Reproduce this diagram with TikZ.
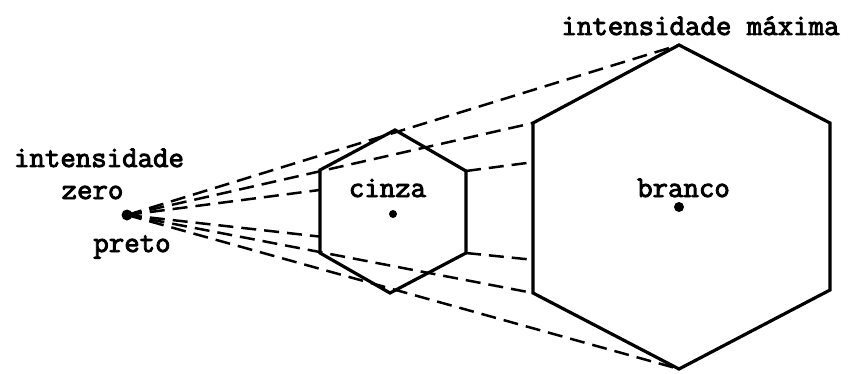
\documentclass[tikz,border=0pt]{standalone}
\usepackage{fontspec}
\newfontfamily\tw{Latin Modern Mono}[FakeBold=3]
\tikzset{
  ray/.style={line width=2.5pt, dash pattern=on 15pt off 8pt},
  hexline/.style={line width=3.2pt, line join=miter},
  lbl/.style={inner sep=0pt, anchor=base, font=\tw\fontsize{30}{30}\selectfont},
  spot/.style={circle, fill=black, inner sep=0pt}
}
\begin{document}
\begin{tikzpicture}[x=1pt,y=-1pt]
\useasboundingbox (0,0) rectangle (850,374);
% origin
\coordinate (O) at (127,215);
% big hexagon
\coordinate (T) at (679,45);
\coordinate (UL) at (533,123);
\coordinate (UR) at (830,123);
\coordinate (LR) at (830,290);
\coordinate (B) at (679,369);
\coordinate (LL) at (533,293);
% small hexagon
\coordinate (t) at (395,130);
\coordinate (ul) at (320,170);
\coordinate (ur) at (466,171);
\coordinate (lr) at (466,253);
\coordinate (b) at (390,293);
\coordinate (ll) at (320,253);
% where the hidden rays enter the small hexagon
\coordinate (eu) at (intersection of O--ur and ul--ll);
\coordinate (el) at (intersection of O--lr and ul--ll);
% rays
\foreach \v in {T,UL,B,LL} \draw[ray] (O) -- (\v);
\draw[ray] (O) -- (eu);
\draw[ray] (O) -- (el);
\draw[ray] (ur) -- (UR);
\draw[ray] (lr) -- (LR);
% big hexagon (opaque)
\draw[hexline, fill=white] (T) -- (UR) -- (LR) -- (B) -- (LL) -- (UL) -- cycle;
% small hexagon
\draw[hexline] (t) -- (ur) -- (lr) -- (b) -- (ll) -- (ul) -- cycle;
% dots
\node[spot, minimum size=11pt] (od) at (O) {};
\node[spot, minimum size=8pt] (cs) at (393,214) {};
\node[spot, minimum size=10pt] (cb) at (679,207) {};
% labels
\node[lbl] (imax) at (700.5,35) {intensidade máxima};
\node[lbl] (izero) at (99,167) {intensidade};
\node[lbl] (zero) at (92.5,199) {zero};
\node[lbl] (preto) at (132,252) {preto};
\node[lbl] (cinza) at (387.5,197) {cinza};
\node[lbl] (branco) at (683.5,197) {branco};
\end{tikzpicture}
\end{document}
